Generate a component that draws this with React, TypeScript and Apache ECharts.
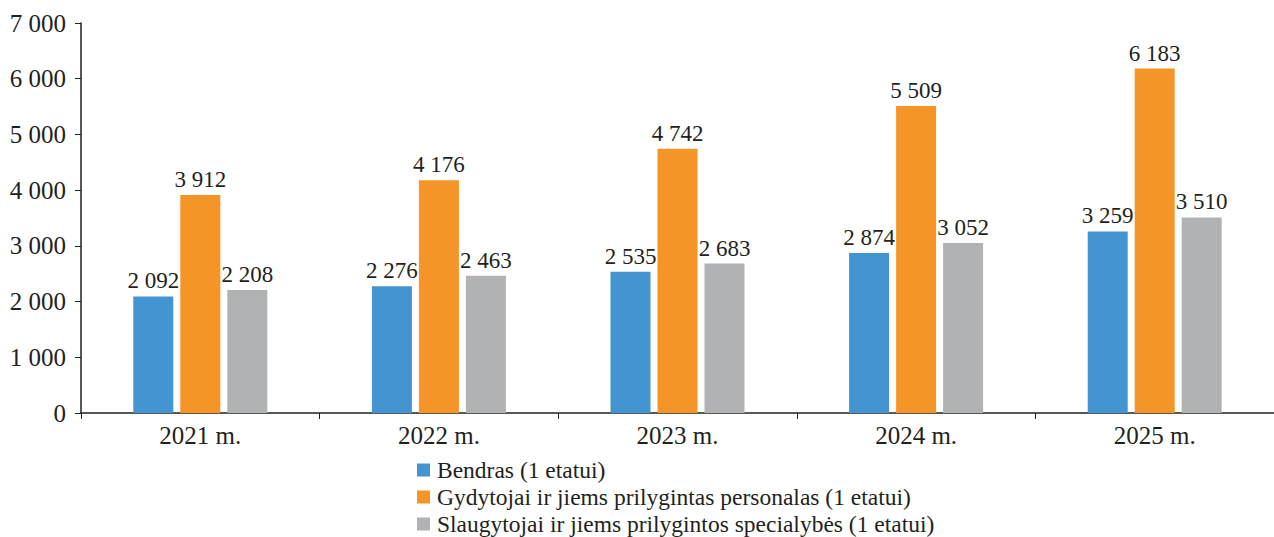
import React, { useEffect, useRef } from "react";
import * as echarts from "echarts";

const categories = ["2021 m.", "2022 m.", "2023 m.", "2024 m.", "2025 m."];
const seriesNames = [
  "Bendras (1 etatui)",
  "Gydytojai ir jiems prilygintas personalas (1 etatui)",
  "Slaugytojai ir jiems prilygintos specialybės (1 etatui)",
];
const bendras = [2092, 2276, 2535, 2874, 3259];
const gydytojai = [3912, 4176, 4742, 5509, 6183];
const slaugytojai = [2208, 2463, 2683, 3052, 3510];
const colors = ["#4394d0", "#f59427", "#b1b2b4"];

const fmt = (v: number) => {
  const s = String(Math.round(v));
  return s.replace(/\B(?=(\d{3})+(?!\d))/g, " ");
};

const FONT = "Liberation Serif";
const TXT = "#231f20";

export default function App() {
  const ref = useRef<HTMLDivElement>(null);
  useEffect(() => {
    if (!ref.current) return;
    const chart = echarts.init(ref.current, null, { renderer: "svg" });
    const data = [bendras, gydytojai, slaugytojai];
    chart.setOption({
      animation: false,
      textStyle: { fontFamily: FONT },
      grid: { left: 81, top: 23, width: 1200, height: 390, containLabel: false },
      legend: {
        orient: "vertical",
        left: 417,
        top: 458,
        padding: 0,
        height: 80,
        itemWidth: 13,
        itemHeight: 13,
        itemGap: 3,
        icon: "rect",
        textStyle: { fontFamily: FONT, fontSize: 23.5, color: TXT, padding: [0, 0, 0, 2] },
        data: seriesNames,
      },
      xAxis: {
        type: "category",
        data: categories,
        axisLine: { lineStyle: { color: TXT, width: 1.5 } },
        axisTick: { show: true, length: 6, alignWithLabel: false, lineStyle: { color: TXT } },
        axisLabel: { fontFamily: FONT, fontSize: 25, color: TXT, margin: 10 },
      },
      yAxis: {
        type: "value",
        min: 0,
        max: 7000,
        interval: 1000,
        splitLine: { show: false },
        axisLine: { show: true, lineStyle: { color: TXT, width: 1.5 } },
        axisTick: { show: true, length: 6, lineStyle: { color: TXT } },
        axisLabel: {
          fontFamily: FONT,
          fontSize: 25,
          color: TXT,
          margin: 15,
          formatter: (v: number) => fmt(v),
        },
      },
      series: data.map((d, i) => ({
        name: seriesNames[i],
        type: "bar",
        data: d,
        barWidth: 40,
        barGap: "17.5%",
        itemStyle: { color: colors[i] },
        label: {
          show: true,
          position: "top",
          distance: 4,
          fontFamily: FONT,
          fontSize: 23,
          color: TXT,
          formatter: (p: any) => fmt(p.value),
        },
      })),
    });
    return () => chart.dispose();
  }, []);
  return (
    <div
      ref={ref}
      style={{ position: "fixed", left: 0, top: 0, width: 1274, height: 537, background: "#fff" }}
    />
  );
}
